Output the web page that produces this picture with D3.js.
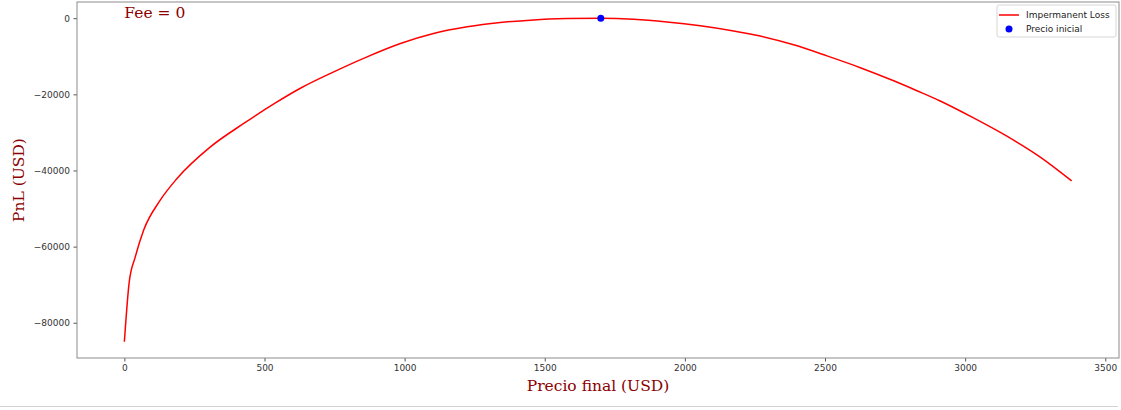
<!DOCTYPE html>
<html>
<head>
<meta charset="utf-8">
<script src="https://cdn.jsdelivr.net/npm/d3@7"></script>
<style>
    body { margin: 0; background: #fff; }
    svg { display: block; }
</style>
</head>
<body>
<div id="d3-container"></div>
<script>
const width = 1121,
    height = 410,
    margin = { top: 2, bottom: 52, left: 77, right: 2 };

// final price (USD)
const precioFinal = [0, 17, 39, 69, 128, 188, 307, 426, 539, 628, 747, 866, 985, 1103,
    1223, 1341, 1460, 1580, 1700, 1817, 1936, 2055, 2174, 2269, 2388, 2507, 2626,
    2745, 2828, 2911, 3030, 3149, 3268, 3380];
// PnL (USD) at each price
const pnl = [-85000, -69500, -62700, -55650, -47800, -42100, -33800, -27650, -22250,
    -18400, -14100, -10150, -6650, -4030, -2280, -1140, -450, -110, 0, -260, -980,
    -2000, -3350, -4700, -7000, -9900, -13000, -16450, -19050, -21750, -26200,
    -31000, -36500, -42750];

const precioInicial = [1700];
const pnlInicial = [0];

const xTicks = [0, 500, 1000, 1500, 2000, 2500, 3000, 3500];
const yTicks = [0, -20000, -40000, -60000, -80000];

const legendLabels = ["Impermanent Loss", "Precio inicial"];

const serif = "'DejaVu Serif', serif";
const sans = "'DejaVu Sans', sans-serif";
const labelColor = "#8b0000";

const data = precioFinal.map((x, i) => ({ x: x, y: pnl[i] }));

// matplotlib-like 5% margins around data
const xExt = d3.extent(precioFinal), yExt = d3.extent(pnl);
const xPad = (xExt[1] - xExt[0]) * 0.05, yPad = (yExt[1] - yExt[0]) * 0.05;

const x = d3.scaleLinear()
    .domain([xExt[0] - xPad, xExt[1] + xPad])
    .range([margin.left, width - margin.right]);

const y = d3.scaleLinear()
    .domain([yExt[0] - yPad, yExt[1] + yPad])
    .range([height - margin.bottom, margin.top]);

const svg = d3.select("#d3-container")
    .append("svg")
    .attr("width", width)
    .attr("height", height);

// axes
const xAxis = svg.append("g")
    .attr("transform", `translate(0,${height - margin.bottom})`)
    .call(d3.axisBottom(x).tickValues(xTicks).tickSize(3.5).tickPadding(3.5).tickFormat(d3.format("d")));

const yAxis = svg.append("g")
    .attr("transform", `translate(${margin.left},0)`)
    .call(d3.axisLeft(y).tickValues(yTicks).tickSize(3.5).tickPadding(3.5).tickFormat(d3.format("d")));

[xAxis, yAxis].forEach(g => {
    g.select(".domain").remove();
    g.selectAll(".tick line").attr("stroke", "#555");
    g.selectAll(".tick text")
        .attr("fill", "#333")
        .style("font-family", sans)
        .style("font-size", "9px");
});

// frame
svg.append("rect")
    .attr("x", margin.left)
    .attr("y", margin.top)
    .attr("width", width - margin.left - margin.right)
    .attr("height", height - margin.top - margin.bottom)
    .attr("fill", "none")
    .attr("stroke", "#8c8c8c")
    .attr("stroke-width", 1);

// curve
const line = d3.line()
    .x(d => x(d.x))
    .y(d => y(d.y))
    .curve(d3.curveMonotoneX);

svg.append("path")
    .datum(data)
    .attr("d", line)
    .attr("fill", "none")
    .attr("stroke", "red")
    .attr("stroke-width", 1.5);

svg.selectAll(".inicial")
    .data(precioInicial)
    .join("circle")
    .attr("class", "inicial")
    .attr("cx", d => x(d))
    .attr("cy", (d, i) => y(pnlInicial[i]))
    .attr("r", 3.5)
    .attr("fill", "blue");

// annotation
svg.append("text")
    .attr("x", x(0))
    .attr("y", y(0))
    .attr("fill", labelColor)
    .style("font-family", serif)
    .style("font-size", "15.5px")
    .text("Fee = 0");

// axis labels
svg.append("text")
    .attr("x", (margin.left + width - margin.right) / 2)
    .attr("y", 391)
    .attr("text-anchor", "middle")
    .attr("fill", labelColor)
    .style("font-family", serif)
    .style("font-size", "15.5px")
    .text("Precio final (USD)");

svg.append("text")
    .attr("transform", `translate(24,${(margin.top + height - margin.bottom) / 2}) rotate(-90)`)
    .attr("text-anchor", "middle")
    .attr("fill", labelColor)
    .style("font-family", serif)
    .style("font-size", "15.5px")
    .text("PnL (USD)");

// legend
const legend = svg.append("g").attr("transform", "translate(997,5)");
legend.append("rect")
    .attr("width", 119)
    .attr("height", 32)
    .attr("rx", 2)
    .attr("fill", "white")
    .attr("stroke", "#d6d6d6");

legend.append("line")
    .attr("x1", 2).attr("x2", 22)
    .attr("y1", 10).attr("y2", 10)
    .attr("stroke", "red")
    .attr("stroke-width", 1.5);

legend.append("circle")
    .attr("cx", 12).attr("cy", 24)
    .attr("r", 3.5)
    .attr("fill", "blue");

legend.selectAll("text")
    .data(legendLabels)
    .join("text")
    .attr("x", 29)
    .attr("y", (d, i) => 13 + i * 14)
    .attr("fill", "#222")
    .style("font-family", sans)
    .style("font-size", "9px")
    .text(d => d);

// notebook cell separator
svg.append("line")
    .attr("x1", 0).attr("x2", 1118)
    .attr("y1", 406.5).attr("y2", 406.5)
    .attr("stroke", "#d3d3d3");
</script>
</body>
</html>
